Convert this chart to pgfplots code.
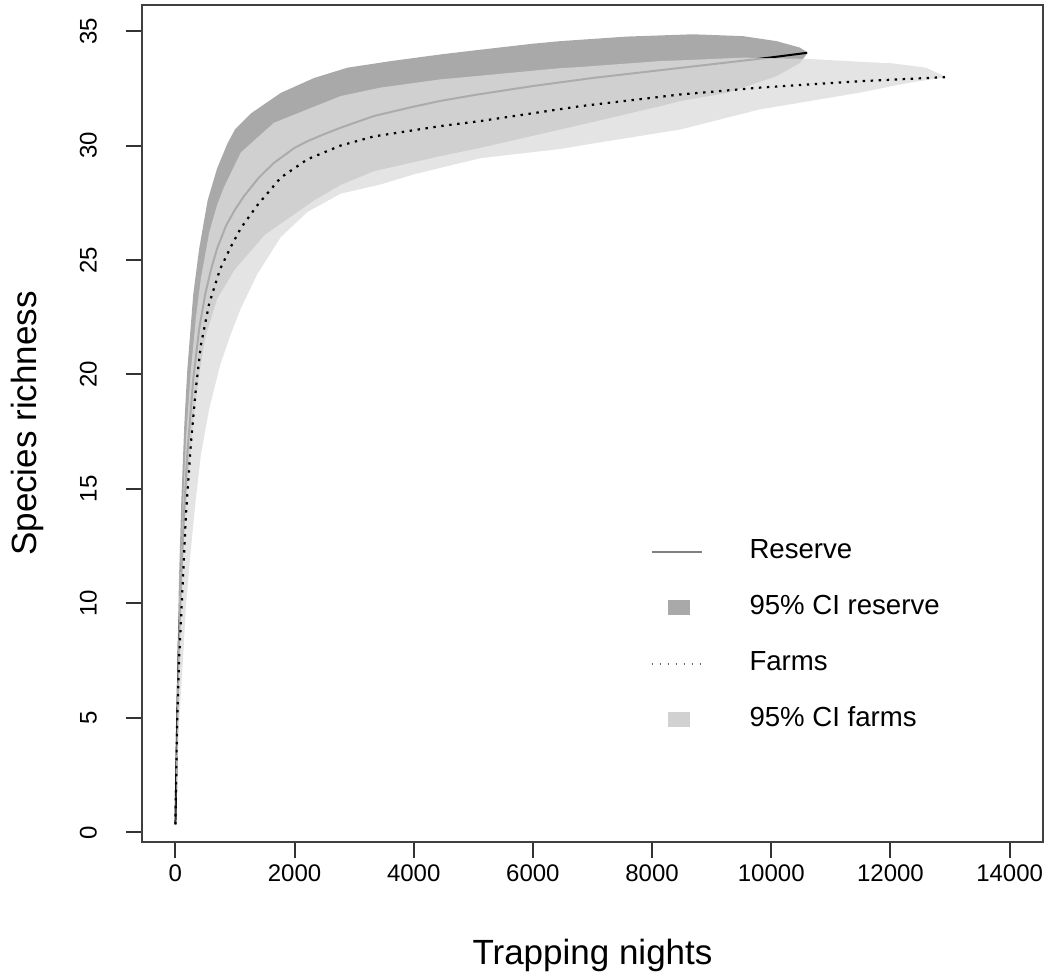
\documentclass[border=0pt]{standalone}
\usepackage{fontspec}
\setmainfont{Liberation Sans}
\usepackage{pgfplots}
\pgfplotsset{compat=1.18}
\definecolor{resband}{HTML}{A9A9A9}
\definecolor{farmband}{HTML}{DCDCDC}
\begin{document}
\begin{tikzpicture}
\begin{axis}[
  scale only axis, width=450.5pt, height=418.5pt, at={(0,0)}, anchor=south west,
  xmin=-560, xmax=14560, ymin=-0.42, ymax=36.14,
  xtick={0,2000,...,14000}, ytick={0,5,...,35},
  scaled ticks=false,
  /pgf/number format/assume math mode=true,
  /pgf/number format/set thousands separator={},
  tick align=outside, tick pos=left, major tick length=8pt,
  axis line style={black!75, line width=1pt},
  every tick/.style={black!80, line width=1pt},
  tick label style={font=\fontsize{12}{14}\selectfont},
  yticklabel style={rotate=90, anchor=south},
  yticklabel shift=11pt,
  xlabel={Trapping nights}, ylabel={Species richness},
  label style={font=\fontsize{17.5}{20}\selectfont},
  xlabel style={at={(axis description cs:0.5,-0.135)}, anchor=center},
  ylabel style={at={(axis description cs:-0.1276,0.5)}, anchor=center},
  legend style={draw=none, fill=none, at={(axis cs:7866,13.01)}, anchor=north west,
    font=\fontsize{13.8}{16}\selectfont, row sep=15pt,
    nodes={text height=10pt, text depth=3pt, inner sep=0pt}},
  legend cell align=left,
]
% reserve CI polygon: upper forward, lower backward
\addplot[fill=resband, draw=none, forget plot] table {
X Y
1 0.4
30 7.0
60 11.0
100 14.5
150 17.8
200 20.2
300 23.5
400 25.5
541 27.6
700 29.0
876 30.1
1000 30.7
1266 31.4
1769 32.3
2327 32.95
2886 33.4
3618 33.69
4449 33.98
5000 34.15
6000 34.45
6457 34.56
7576 34.76
8687 34.86
9524 34.78
10089 34.56
10479 34.28
10613 34.06
10479 33.6
10089 33.03
9251 32.3
8469 31.94
8134 31.72
6794 30.9
6457 30.7
5119 29.9
4449 29.54
3332 28.88
2774 28.28
2327 27.6
1500 26.1
1000 24.6
700 23.3
500 21.6
400 20.0
300 18.0
200 15.0
150 13.0
100 10.0
60 7.0
30 4.0
1 0.3
};
% reserve mean
\addplot[black, line width=1pt, forget plot] table {
X Y
1 0.35
30 4.8
60 8.3
100 11.3
150 14.2
200 16.5
300 19.8
400 22.0
500 23.5
600 24.6
700 25.5
850 26.5
1000 27.2
1154 27.8
1400 28.6
1657 29.25
2000 29.9
2216 30.19
2500 30.5
2774 30.78
3332 31.29
4000 31.7
4449 31.95
5000 32.2
6000 32.6
7000 32.95
8000 33.25
9000 33.55
10000 33.85
10600 34.05
};
% farms CI polygon
\addplot[fill=farmband, fill opacity=0.78, draw=none, forget plot] table {
X Y
1 0.4
27 6.0
65 10.3
122 14.0
178 17.2
261 20.2
345 22.5
429 24.2
568 26.2
700 27.4
819 28.2
1099 29.7
1657 31.0
2774 32.16
3442 32.53
4449 32.89
5119 33.05
6457 33.38
6794 33.43
8134 33.69
8469 33.72
9524 33.84
10647 33.78
11484 33.66
12036 33.59
12601 33.4
12936 32.99
12321 32.75
11484 32.31
9809 31.58
8469 30.7
8134 30.56
6794 30.0
6457 29.85
5119 29.45
3997 28.74
3442 28.3
2774 27.9
2216 27.1
1769 26.0
1378 24.4
1100 22.9
935 21.8
750 20.4
568 18.5
429 16.5
345 14.6
261 12.4
178 9.9
122 7.3
65 4.9
27 2.5
1 0.3
};
% farms mean
\addplot[black, line width=1.1pt, dash pattern=on 1.2pt off 2.8pt, forget plot] table {
X Y
1 0.35
27 4.5
65 7.7
122 10.8
178 13.9
261 17.0
345 19.4
429 21.3
568 23.1
750 24.6
935 25.6
1100 26.4
1378 27.4
1769 28.6
2216 29.4
2774 30.0
3332 30.4
4449 30.85
5119 31.07
6794 31.72
8469 32.23
9809 32.53
11484 32.81
12936 32.99
};
\addlegendimage{legend image code/.code={\draw[black!50, line width=1pt] (0pt,0pt) -- (25pt,0pt); \path[draw=none, fill=none] (0pt,0pt) -- (49pt,0pt);}}
\addlegendentry{Reserve}
\addlegendimage{legend image code/.code={\fill[resband, draw=none] (8pt,-3.75pt) rectangle (19pt,3.75pt); \path[draw=none, fill=none] (0pt,0pt) -- (49pt,0pt);}}
\addlegendentry{95\% CI reserve}
\addlegendimage{legend image code/.code={\draw[black!60, line width=0.7pt, dash pattern=on 0.7pt off 3.3pt] (0pt,0pt) -- (25pt,0pt); \path[draw=none, fill=none] (0pt,0pt) -- (49pt,0pt);}}
\addlegendentry{Farms}
\addlegendimage{legend image code/.code={\fill[farmband!95!black, draw=none] (8pt,-3.75pt) rectangle (19pt,3.75pt); \path[draw=none, fill=none] (0pt,0pt) -- (49pt,0pt);}}
\addlegendentry{95\% CI farms}
\end{axis}
\pgfresetboundingbox
\path[use as bounding box] (-71pt,-68pt) rectangle (454pt,421pt);
\end{tikzpicture}
\end{document}
